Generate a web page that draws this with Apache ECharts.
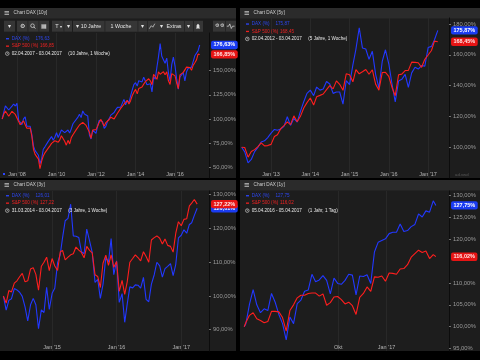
<!DOCTYPE html>
<html><head><meta charset="utf-8">
<script src="https://cdn.jsdelivr.net/npm/echarts@6/dist/echarts.min.js"></script>
<style>html,body{margin:0;padding:0;background:#000;}#c{width:480px;height:360px;}</style>
</head><body><div id="c"></div>
<script>
// ---------------- DATA (percent performance) ----------------
// Panel 1: 10 years, points: 02.04.2007 then month starts
const tlDax = [100,106.8,113.6,115.4,109.3,110.1,113.3,115.5,113.4,
 116.2,98.7,97.2,94.2,100.1,102.2,92.5,93.4,92.5,84.0,71.9,67.3,
 69.3,62.5,53.5,58.9,68.7,71.2,69.3,76.8,78.6,81.8,78.0,81.1,
 85.8,80.8,80.7,88.7,88.4,85.9,86.0,88.6,85.4,89.8,95.1,96.4,
 99.6,102.0,104.8,101.5,108.3,105.1,106.3,103.2,83.4,79.3,88.5,87.7,
 85.0,93.1,98.8,100.1,97.4,90.3,92.4,97.6,100.4,104.0,104.6,106.7,
 109.7,112.0,111.5,112.3,114.0,120.3,114.7,119.3,116.8,123.8,130.2,135.5,
 137.6,134.1,139.7,137.7,138.4,143.3,141.7,135.5,136.5,136.5,128.0,143.8,
 141.3,154.1,164.3,178.0,165.0,164.5,157.7,163.0,147.8,139.2,156.3,164.0,
 154.8,141.2,131.0,143.6,144.7,147.9,139.5,148.9,152.6,151.5,153.7,153.3,
 165.4,166.2,170.5,176.63];
const tlSpx = [100,104.8,108.3,106.3,102.9,104.2,108.0,109.5,104.7,
 103.8,97.5,94.1,93.6,98.0,99.0,90.5,89.6,90.7,82.5,68.5,63.4,
 63.9,58.4,48.5,56.4,61.7,65.0,65.0,69.8,72.2,74.8,73.3,77.5,
 78.9,76.0,78.1,82.7,83.9,77.0,72.9,77.9,74.2,80.7,83.7,83.5,
 89.0,90.9,93.8,93.8,96.5,95.1,93.4,91.4,86.2,80.0,88.6,88.2,
 89.0,92.8,96.6,99.6,98.9,92.6,96.3,97.5,99.5,101.9,99.9,100.1,
 100.8,105.9,107.1,111.0,113.0,115.3,113.6,119.2,115.5,119.0,124.3,127.7,
 130.7,126.1,131.5,132.4,133.2,136.1,138.6,136.6,141.7,139.5,135.5,146.3,
 145.6,141.1,148.9,146.3,147.5,149.0,145.9,148.8,139.5,135.8,147.0,147.1,
 144.6,137.2,131.5,145.7,146.0,148.3,148.4,153.7,153.5,153.3,150.4,155.5,
 158.3,161.2,167.2,166.85];
const tlXTicks = ['2008-01-01','2010-01-01','2012-01-01','2014-01-01','2016-01-01'];
const tlYTicks = [50,75,100,125,150];

// Panel 2: 5 years, points: 02.04.2012 then month starts
const trDax = [100,97.0,89.9,92.1,97.2,100.0,103.5,104.2,106.3,
 109.2,111.6,111.1,111.9,113.6,119.8,114.2,118.8,116.3,123.3,129.6,135.0,
 137.1,133.5,139.1,137.1,137.8,142.7,141.1,135.0,135.9,135.9,128.0,143.2,
 140.7,153.5,163.6,177.6,164.4,163.8,157.1,162.3,147.2,138.6,155.7,163.3,
 154.2,140.6,129.5,143.0,144.1,147.3,138.9,148.3,152.0,150.8,153.0,152.7,
 164.7,165.5,169.8,175.87];
const trSpx = [100,99.9,93.6,97.3,98.5,100.5,102.9,100.9,101.1,
 101.9,107.0,108.2,112.1,114.1,116.5,114.7,120.4,116.6,120.1,125.5,129.0,
 132.0,127.4,132.8,133.7,134.6,137.4,140.0,137.9,143.1,140.9,137.0,147.7,
 147.1,142.5,150.4,147.7,149.0,150.5,147.4,150.3,140.9,137.1,148.5,148.6,
 146.0,138.6,133.5,147.1,147.5,149.8,149.9,155.3,155.1,154.9,151.9,157.1,
 159.9,162.8,168.9,168.45];
const trXTicks = ['2013-01-01','2014-01-01','2015-01-01','2016-01-01','2017-01-01'];
const trYTicks = [100,120,140,160,180];

// Panel 3: 3 years, points: 31.03.2014 then 16th / 1st of each month
const blDax = [100,
 95.8,98.7,99.2,102.2,101.8,101.1,99.9,96.7,92.6,97.4,99.3,97.4,90.3,95.9,95.1,102.6,96.0,100.8,
 102.3,109.9,112.3,117.2,122.3,123.0,127.2,117.8,117.7,117.3,113.1,112.5,119.8,116.3,112.9,104.0,104.9,99.3,103.4,111.5,110.0,117.0,106.3,110.4,
 98.1,100.7,92.2,97.6,102.7,102.4,103.3,103.2,102.3,105.5,99.0,98.3,103.5,106.3,110.0,108.9,105.6,108.1,108.8,109.6,106.0,109.4,117.2,118.0,
 119.6,118.6,121.2,121.7,123.9,126.01];
const blSpx = [100,
 97.9,101.6,101.2,103.8,104.5,105.7,106.7,104.2,104.5,108.0,108.4,106.4,101.7,108.8,110.0,111.5,107.5,111.1,
 108.9,107.6,113.1,113.5,110.7,111.5,112.2,112.5,114.5,113.6,112.9,111.3,114.7,113.5,112.8,106.3,105.8,102.5,109.7,112.1,109.1,112.2,108.5,110.2,
 101.4,104.6,100.5,104.2,110.0,111.1,112.2,111.4,110.4,113.1,111.7,110.0,116.6,117.3,117.8,117.1,115.4,116.9,115.0,114.7,113.0,118.6,122.0,120.8,
 122.7,122.9,126.7,127.5,128.6,127.22];
const blXTicks = ['2015-01-01','2016-01-01','2017-01-01'];
const blYTicks = [90,100,110,120,130];

// Panel 4: 1 year, points: 05.04.2016, weekly Fridays 08.04.2016..31.03.2017, 05.04.2017
const brDax = [100,100.6,105.1,108.5,105.0,103.2,104.1,103.7,107.6,105.6,102.8,100.7,97.0,
 102.2,100.7,105.3,106.1,108.1,108.4,112.0,110.3,110.7,111.7,110.6,107.5,111.1,109.9,
 109.7,110.6,112.0,111.8,107.3,111.6,111.5,111.9,109.9,117.1,119.3,119.7,120.1,
 121.3,121.6,121.6,123.5,121.8,122.0,122.9,123.4,125.8,125.1,126.5,126.2,128.8,127.75];
const brSpx = [100,100.9,102.6,103.2,101.8,101.4,100.9,101.2,103.5,103.5,103.4,102.1,99.0,
 103.7,105.0,106.6,107.2,107.2,107.6,107.7,107.7,107.0,107.5,104.9,105.5,106.8,106.9,
 106.2,105.2,105.6,104.8,102.8,106.7,107.6,109.1,108.1,111.4,111.3,111.6,110.4,
 112.3,112.2,112.0,113.2,113.3,114.2,115.9,116.7,117.5,117.0,117.3,115.6,116.5,116.02];
const brXTicks = ['2016-10-01','2017-01-01'];
const brYTicks = [95,100,105,110,120,125,130];

const titles = ['Chart DAX [10y]','Chart DAX [5y]','Chart DAX [3y]','Chart DAX [1y]'];
const ranges = ['02.04.2007 - 03.04.2017','02.04.2012 - 03.04.2017','31.03.2014 - 03.04.2017','05.04.2016 - 05.04.2017'];
const periods = ['(10 Jahre, 1 Woche)','(5 Jahre, 1 Woche)','(3 Jahre, 1 Woche)','(1 Jahr, 1 Tag)'];

// ---------------- helpers ----------------
const FONT = '"Liberation Sans", Arial, sans-serif';
const BLUE = '#2238ff', RED = '#ff1e1e';
function fmtPct(v){ return v.toFixed(2).replace('.', ',') + '%'; }
function fmtNum(v){ return v.toFixed(2).replace('.', ','); }
const MONTHS = ['Jan','Feb','Mär','Apr','Mai','Jun','Jul','Aug','Sep','Okt','Nov','Dez'];
function fmtX(v){ const d = new Date(v); const m = d.getUTCMonth();
  return m === 0 ? "Jan '" + String(d.getUTCFullYear()).slice(2) : MONTHS[m]; }
function monthlyDates(y,m,d,n){ const o=[Date.UTC(y,m-1,d)]; for(let k=1;k<n;k++) o.push(Date.UTC(y,m-1+k,1)); return o; }
function semiMonthlyDates(y,m,d,n){ const o=[Date.UTC(y,m-1,d)]; for(let k=1;k<n;k++){ const mo=m-1+Math.floor(k/2); o.push(k%2?Date.UTC(2014,mo,16):Date.UTC(2014,mo,1)); } return o; }
function weeklyDates(n){ const o=[Date.UTC(2016,3,5)]; for(let k=1;k<n-1;k++) o.push(Date.UTC(2016,3,8+7*(k-1))); o.push(Date.UTC(2017,3,5)); return o; }

const panels = [
 {grid:{left:0,right:271,top:33,bottom:182}, xMin:Date.UTC(2007,1,21), xMax:Date.UTC(2017,8,20), xt:tlXTicks, yMin:38.92, yMax:189.03, yt:tlYTicks, dates:monthlyDates(2007,4,2,tlDax.length), dax:tlDax, spx:tlSpx},
 {grid:{left:240,right:31,top:18,bottom:182}, xMin:Date.UTC(2012,2,18), xMax:Date.UTC(2017,6,14), xt:trXTicks, yMin:80.08, yMax:183.91, yt:trYTicks, dates:monthlyDates(2012,4,2,trDax.length), dax:trDax, spx:trSpx},
 {grid:{left:0,right:271,top:191,bottom:9}, xMin:Date.UTC(2014,2,12), xMax:Date.UTC(2017,5,7), xt:blXTicks, yMin:83.70, yMax:131.11, yt:blYTicks, dates:semiMonthlyDates(2014,4,1,blDax.length).map((t,i)=>i===0?Date.UTC(2014,2,31):t), dax:blDax, spx:blSpx},
 {grid:{left:240,right:31,top:191,bottom:9}, xMin:Date.UTC(2016,2,28), xMax:Date.UTC(2017,3,30), xt:brXTicks, yMin:94.44, yMax:131.05, yt:brYTicks, dates:weeklyDates(brDax.length), dax:brDax, spx:brSpx}
];

const grids=[], xAxes=[], yAxes=[], series=[];
panels.forEach((p,i)=>{
  grids.push(Object.assign({containLabel:false}, p.grid));
  const xt = p.xt.map(s=>Date.parse(s));
  xAxes.push({type:'value', gridIndex:i, min:p.xMin, max:p.xMax,
    axisLine:{show:false}, axisTick:{show:false, customValues:xt},
    axisLabel:{inside:true, margin:1, customValues:xt, formatter:fmtX, color:'#b4b4b4', fontSize:5.5, fontFamily:FONT},
    splitLine:{show:true, lineStyle:{color:'#282828', width:1}}});
  yAxes.push({type:'value', gridIndex:i, position:'right', min:p.yMin, max:p.yMax,
    axisLine:{show:true, lineStyle:{color:'#0c0c0c', width:1}},
    axisTick:{show:true, length:2, customValues:p.yt, lineStyle:{color:'#8a8a8a', width:0.8}},
    axisLabel:{margin:4, customValues:p.yt, formatter:fmtPct, color:'#9a9a9a', fontSize:5.8, fontFamily:FONT},
    splitLine:{show:false}});
  [[p.dax, BLUE, '#1a3cf2', '#ffffff'], [p.spx, RED, '#e61414', '#ffe6e6']].forEach(([vals, col, bcol, tcol], si)=>{
    const last = vals[vals.length-1];
    series.push({type:'line', xAxisIndex:i, yAxisIndex:i, data:p.dates.map((t,k)=>[t, vals[k]]),
      symbol:'none', showSymbol:false, animation:false, silent:true, z:2+si,
      lineStyle:{color:col, width:1.1}, itemStyle:{color:col},
      markLine:{silent:true, symbol:['none','none'], animation:false, precision:2,
        lineStyle:{color:'rgba(0,0,0,0)', width:0, type:'solid'},
        label:{show:true, position:'end', distance:2, formatter:()=>fmtPct(last), backgroundColor:bcol, color:tcol,
          fontSize:5.5, fontWeight:'bold', fontFamily:FONT, padding:[1.2,2.5,1.2,2.5], borderRadius:2},
        emphasis:{disabled:true},
        data:[{yAxis:last}]}});
  });
});

// ---------------- chrome (panels, titles, legends, toolbar) ----------------
const g = [];
function rect(x,y,w,h,fill,z){ g.push({type:'rect', silent:true, z:(z===undefined?-10:z), shape:{x:x,y:y,width:w,height:h}, style:{fill:fill}}); }
function text(x,y,str,fill,size,align,weight){ g.push({type:'text', silent:true, z:100, x:x, y:y,
  style:{text:str, fill:fill, font:(weight||'normal')+' '+size+'px '+FONT, align:align||'left', verticalAlign:'middle', textAlign:align||'left', textVerticalAlign:'middle'}}); }
function poly(pts,stroke,w){ g.push({type:'polyline', silent:true, z:100, shape:{points:pts}, style:{fill:null, stroke:stroke, lineWidth:w}}); }
function circ(cx,cy,r,stroke,w){ g.push({type:'circle', silent:true, z:100, shape:{cx:cx,cy:cy,r:r}, style:{fill:null, stroke:stroke, lineWidth:w}}); }

const boxes = [[0,8,236,170],[240,8,240,170],[0,180,236,171],[240,180,240,171]];
const legY = [38.7, 24, 195.7, 195.7];
boxes.forEach(([x,y,w,h],i)=>{
  rect(x,y,w,h,'#1d1d1d',-12);
  rect(x,y,w,10.5,'#2b2b2b',-11);
  [0,1.5,3].forEach(d=>rect(x+4.5,y+3+d,4.5,0.8,'#bdbdbd',90));
  text(x+13.5,y+5.2,titles[i],'#cfcfcf',4.7);
  const lx = x+5, ly = legY[i];
  rect(lx+1,ly-0.6,3,1.3,'#2c46ff',90);
  text(lx+6.7,ly,'DAX (%)','#2c46f0',4.6);
  text(lx+30.5,ly,fmtNum(panels[i].dax[panels[i].dax.length-1]),'#2c46f0',4.6);
  rect(lx+1,ly+7.4-0.6,3,1.3,'#f02020',90);
  text(lx+6.7,ly+7.4,'S&P 500 (%)','#ee2222',4.6);
  text(lx+35,ly+7.4,fmtNum(panels[i].spx[panels[i].spx.length-1]),'#ee2222',4.6);
  circ(lx+2.3,ly+14.9,1.8,'#e0e0e0',0.6);
  poly([[lx+2.3,ly+13.8],[lx+2.3,ly+14.9],[lx+3.2,ly+14.9]],'#e0e0e0',0.5);
  text(lx+6.7,ly+14.9,ranges[i],'#e8e8e8',4.6);
  text(lx+63.3,ly+14.9,periods[i],'#e8e8e8',4.6);
});

// toolbar of the first panel
const tbY = 20.7, tbH = 11, tc = tbY + tbH/2;
[[4,11],[17,32],[52,20],[73,84],[157,46],[213,23]].forEach(([x,w])=>rect(x,tbY,w,tbH,'#363636',-5));
[27.5,38.5,63.5,104.5,137.5,147,184,193,225].forEach(x=>rect(x,tbY,0.8,tbH,'#232323',-4));
text(9.5,tc,'▾','#e0e0e0',5.5,'center');
text(22,tc,'⚙','#e0e0e0',6,'center');
circ(32.5,tc-0.5,1.8,'#e0e0e0',0.7); poly([[33.8,tc+0.8],[35.3,tc+2.3]],'#e0e0e0',0.9);
text(44,tc,'▦','#e0e0e0',6,'center');
text(57,tc,'T','#e0e0e0',5.5,'center'); text(60.5,tc+0.5,'▾','#e0e0e0',3.5,'center');
text(68.3,tc,'▾','#e0e0e0',5.5,'center');
text(77,tc,'▾','#e0e0e0',5.5,'center');
text(91,tc,'10 Jahre','#e6e6e6',5.3,'center');
text(121,tc,'1 Woche','#e6e6e6',5.3,'center');
text(142,tc,'▾','#e0e0e0',5.5,'center');
poly([[149.3,tc+2.5],[151.3,tc-0.5],[152.8,tc+1],[154.8,tc-2.5]],'#e0e0e0',0.7);
text(161.5,tc,'▾','#e0e0e0',5.5,'center');
text(174,tc,'Extras','#e6e6e6',5.3,'center');
text(188.5,tc,'▾','#e0e0e0',5.5,'center');
g.push({type:'polygon', silent:true, z:100, shape:{points:[[195.8,tc+2.3],[200.2,tc+2.3],[199.4,tc+1.2],[199.4,tc-1],[198,tc-2.4],[196.6,tc-1],[196.6,tc+1.2]]}, style:{fill:'#e0e0e0'}});
text(217,tc,'⚙','#e0e0e0',4.5,'center'); text(221.5,tc,'⚙','#e0e0e0',4.5,'center');
poly([[226.8,tc],[228.6,tc],[229.8,tc-2.3],[231.3,tc+2.3],[232.5,tc],[234.6,tc]],'#e0e0e0',0.7);
rect(3,173,2,2,'#2c46ff',90);
text(455,175,'ad.vwd','#5a5a5a',4.3);

const chart = echarts.init(document.getElementById('c'), null, {renderer:'canvas'});
chart.setOption({
  backgroundColor:'#000', animation:false,
  grid:grids, xAxis:xAxes, yAxis:yAxes, series:series, graphic:g
});
</script>
</body></html>
